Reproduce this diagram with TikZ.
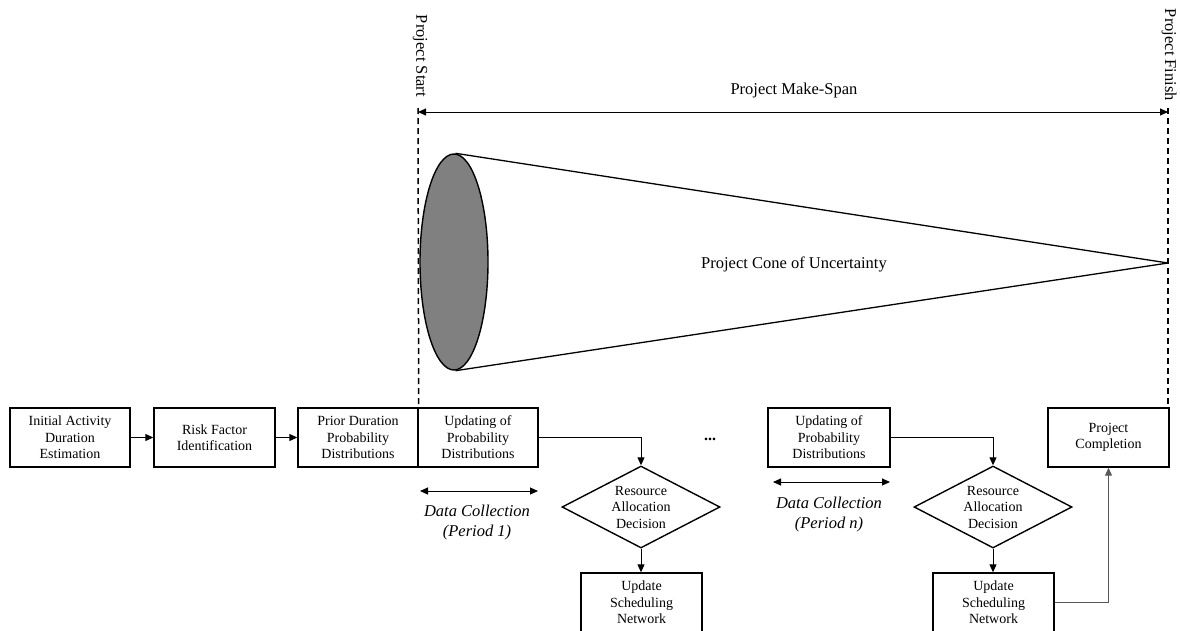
\documentclass[tikz,border=0pt]{standalone}
\usepackage{fontspec}
\setmainfont{Liberation Serif}
\usetikzlibrary{arrows.meta,shapes.geometric}
\begin{document}
\begin{tikzpicture}[x=1pt,y=-1pt,
  box/.style={draw,line width=1.4pt,minimum width=120pt,minimum height=59pt,
    inner sep=0pt,align=center,font=\fontsize{14}{16.5}\selectfont},
  dec/.style={draw,diamond,line width=1.4pt,minimum width=158pt,minimum height=82pt,inner sep=0pt},
  dectext/.style={align=center,font=\fontsize{14}{16.5}\selectfont},
  flow/.style={line width=1pt,-{Triangle[length=8pt,width=7pt]}},
  span/.style={line width=1pt,{Triangle[length=8pt,width=7pt]}-{Triangle[length=8pt,width=7pt]}},
  guide/.style={dash pattern=on 6pt off 4pt,line width=1.5pt},
  lab/.style={font=\fontsize{16.5}{20}\selectfont},
  note/.style={align=center,font=\fontsize{16.5}{20}\selectfont\itshape}
]
\useasboundingbox (0,0) rectangle (1180,630);

% ---- process boxes ----
\node[box] (init) at (70,437.5) {Initial Activity\\Duration\\Estimation};
\node[box,minimum width=121pt] (risk) at (214.5,437.5) {Risk Factor\\Identification};
\node[box] (prior) at (358,437.5) {Prior Duration\\Probability\\Distributions};
\node[box] (upd1) at (478,437.5) {Updating of\\Probability\\Distributions};
\node[dec,label={[dectext]center:{Resource\\Allocation\\Decision}}] (dec1) at (641,507) {};
\node[box,minimum width=121pt] (net1) at (641.5,602.5) {Update\\Scheduling\\Network};
\node[font=\fontsize{16}{18}\selectfont\bfseries] (dots) at (710,439) {...};
\node[box,minimum width=122pt] (upd2) at (829,437.5) {Updating of\\Probability\\Distributions};
\node[dec,label={[dectext]center:{Resource\\Allocation\\Decision}}] (dec2) at (993,507) {};
\node[box,minimum width=121pt] (net2) at (993.5,602.5) {Update\\Scheduling\\Network};
\node[box,minimum width=121pt] (done) at (1108.5,437.5) {Project\\Completion};

% ---- flow connectors ----
\draw[flow] (init) -- (risk);
\draw[flow] (risk) -- (prior);
\draw[flow] (upd1.east) -| (dec1.north);
\draw[flow] (dec1.south) -- (dec1.south |- net1.north);
\draw[flow] (upd2.east) -| (dec2.north);
\draw[flow] (dec2.south) -- (dec2.south |- net2.north);
\draw[flow,black!65] (net2.east) -| (done.south);

% ---- data collection periods ----
\coordinate (dc1a) at (420,491);
\coordinate (dc1b) at (538,491);
\draw[span] (dc1a) -- (dc1b);
\node[note] (dc1t) at (477,523) {Data Collection\\(Period 1)};
\coordinate (dc2a) at (773,482);
\coordinate (dc2b) at (890,482);
\draw[span] (dc2a) -- (dc2b);
\node[note] (dc2t) at (829,515) {Data Collection\\(Period n)};

% ---- project start / finish markers ----
\coordinate (startTop) at (418,108);
\coordinate (finTop) at (1168,108);
\draw[guide] (startTop) -- (prior.north east);
\draw[guide] (finTop) -- (finTop |- done.north);
\coordinate (spanL) at (418,112);
\coordinate (spanR) at (1168,112);
\draw[span] (spanL) -- (spanR);
\node[lab] (mk) at (794,91) {Project Make-Span};
\node[lab,rotate=-90] (pstart) at (420,56) {Project Start};
\node[lab,rotate=-90] (pfin) at (1169,55) {Project Finish};

% ---- cone of uncertainty ----
\coordinate (apex) at (1168,263);
\node[draw,ellipse,fill=black!50,line width=1.4pt,minimum width=68pt,minimum height=216pt,inner sep=0pt] (mouth) at (454,262) {};
\draw[line width=1.3pt] (mouth.north) ++(1.5,0) coordinate (ctop) -- (apex);
\draw[line width=1.3pt] (mouth.south) ++(1.5,0) coordinate (cbot) -- (apex);
\node[lab] (cone) at (794,264) {Project Cone of Uncertainty};
\end{tikzpicture}
\end{document}
